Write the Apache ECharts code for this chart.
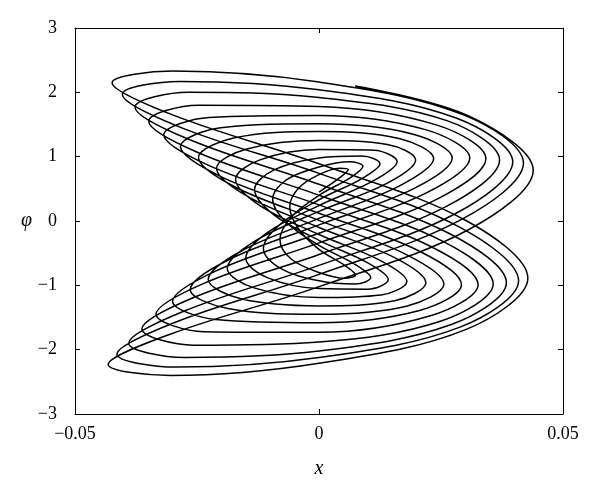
<!DOCTYPE html>
<html>
<head>
<meta charset="utf-8">
<script src="https://cdn.jsdelivr.net/npm/echarts@6/dist/echarts.min.js"></script>
<style>
html,body{margin:0;padding:0;background:#fff;}
#chart{width:600px;height:488px;}
</style>
</head>
<body>
<div id="chart"></div>
<script>
// Axis ticks
const xTicks = [-0.05, 0, 0.05];
const yTicks = [-3, -2, -1, 0, 1, 2, 3];

// Trajectory (x, phi), one array per cycle of the spiral
const cycle01 = [
  [0.0074, 2.10], [0.0310, 1.62], [0.0439, 0.79],
  [0.0310, -0.12], [0, -1.02], [-0.0305, -1.76], [-0.0432, -2.23],
  [-0.0305, -2.40], [0, -2.21], [0.0303, -1.68], [0.0428, -0.89],
  [0.0303, 0.00], [0, 0.89], [-0.0300, 1.65], [-0.0424, 2.15]
];
const cycle02 = [
  [-0.0300, 2.33], [0, 2.16], [0.0296, 1.65], [0.0419, 0.90],
  [0.0296, 0.04], [0, -0.83], [-0.0293, -1.57], [-0.0414, -2.07],
  [-0.0293, -2.27], [0, -2.12], [0.0289, -1.65], [0.0409, -0.93],
  [0.0289, -0.10], [0, 0.74], [-0.0285, 1.46], [-0.0403, 1.97]
];
const cycle03 = [
  [-0.0285, 2.17], [0, 2.04], [0.0281, 1.60], [0.0397, 0.92],
  [0.0281, 0.12], [0, -0.69], [-0.0276, -1.40], [-0.0390, -1.90],
  [-0.0276, -2.12], [0, -2.02], [0.0271, -1.61], [0.0384, -0.96],
  [0.0271, -0.21], [0, 0.57], [-0.0267, 1.27], [-0.0377, 1.77]
];
const cycle04 = [
  [-0.0267, 2.00], [0, 1.92], [0.0262, 1.56], [0.0370, 0.95],
  [0.0262, 0.23], [0, -0.52], [-0.0257, -1.19], [-0.0363, -1.68],
  [-0.0257, -1.93], [0, -1.88], [0.0252, -1.55], [0.0357, -0.98],
  [0.0252, -0.31], [0, 0.40], [-0.0247, 1.06], [-0.0349, 1.55]
];
const cycle05 = [
  [-0.0247, 1.80], [0, 1.78], [0.0242, 1.49], [0.0342, 0.97],
  [0.0242, 0.34], [0, -0.34], [-0.0236, -0.97], [-0.0334, -1.45],
  [-0.0236, -1.72], [0, -1.73], [0.0230, -1.47], [0.0326, -0.99],
  [0.0230, -0.40], [0, 0.25], [-0.0225, 0.86], [-0.0318, 1.34]
];
const cycle06 = [
  [-0.0225, 1.61], [0, 1.64], [0.0218, 1.42], [0.0309, 0.98],
  [0.0218, 0.43], [0, -0.19], [-0.0212, -0.78], [-0.0300, -1.25],
  [-0.0212, -1.53], [0, -1.58], [0.0206, -1.39], [0.0292, -0.99],
  [0.0206, -0.47], [0, 0.12], [-0.0201, 0.69], [-0.0284, 1.16]
];
const cycle07 = [
  [-0.0201, 1.45], [0, 1.51], [0.0193, 1.35], [0.0273, 0.98],
  [0.0193, 0.50], [0, -0.06], [-0.0187, -0.61], [-0.0264, -1.07],
  [-0.0187, -1.36], [0, -1.45], [0.0181, -1.32], [0.0256, -0.98],
  [0.0181, -0.53], [0, 0.01], [-0.0175, 0.54], [-0.0247, 0.99]
];
const cycle08 = [
  [-0.0175, 1.29], [0, 1.39], [0.0166, 1.28], [0.0235, 0.97],
  [0.0166, 0.55], [0, 0.04], [-0.0160, -0.47], [-0.0227, -0.91],
  [-0.0160, -1.21], [0, -1.32], [0.0155, -1.24], [0.0219, -0.96],
  [0.0155, -0.57], [0, -0.10], [-0.0148, 0.39], [-0.0210, 0.82]
];
const cycle09 = [
  [-0.0148, 1.12], [0, 1.25], [0.0140, 1.19], [0.0198, 0.95],
  [0.0140, 0.59], [0, 0.15], [-0.0133, -0.32], [-0.0188, -0.74],
  [-0.0133, -1.04], [0, -1.19], [0.0127, -1.15], [0.0180, -0.94],
  [0.0127, -0.62], [0, -0.21], [-0.0121, 0.24], [-0.0171, 0.65]
];
const cycle10 = [
  [-0.0121, 0.95], [0, 1.11], [0.0113, 1.10], [0.0160, 0.92],
  [0.0113, 0.63], [0, 0.24], [-0.0106, -0.18], [-0.0150, -0.58],
  [-0.0106, -0.88], [0, -1.05], [0.0100, -1.06], [0.0142, -0.91],
  [0.0100, -0.65], [0, -0.30], [-0.0093, 0.10], [-0.0132, 0.49]
];
const cycle11 = [
  [-0.0093, 0.79], [0, 0.98], [0.0088, 1.01], [0.0125, 0.89],
  [0.0088, 0.66], [0, 0.33], [-0.0081, -0.06], [-0.0114, -0.43],
  [-0.0081, -0.73], [0, -0.93], [0.0075, -0.98], [0.0106, -0.88],
  [0.0075, -0.68], [0, -0.38], [-0.0067, -0.02], [-0.0095, 0.34]
];
const cycle12 = [
  [-0.0067, 0.64], [0, 0.84], [0.0064, 0.92], [0.0090, 0.85],
  [0.0064, 0.67], [0, 0.40], [-0.0057, 0.06], [-0.0080, -0.29],
  [-0.0057, -0.59], [0, -0.80], [0.0053, -0.89], [0.0075, -0.84],
  [0.0053, -0.69], [0, -0.44], [-0.0042, -0.12], [-0.0060, 0.22]
];
const cycle13 = [
  [-0.0042, 0.51], [0, 0.72], [0.0042, 0.82], [0.0060, 0.80],
  [0.0042, 0.67], [0, 0.45]
];

const trajectory = [].concat(cycle01, cycle02, cycle03, cycle04, cycle05, cycle06,
  cycle07, cycle08, cycle09, cycle10, cycle11, cycle12, cycle13);

const serif = "'Liberation Serif', 'DejaVu Serif', serif";
const fmt = v => (v < 0 ? '\u2212' : '') + String(Math.abs(v));

function axisCommon(minV, maxV, step) {
  return {
    type: 'value', min: minV, max: maxV, interval: step,
    axisLine: { show: true, onZero: false, lineStyle: { color: '#000', width: 1 } },
    axisTick: { show: true, inside: true, length: 5, lineStyle: { color: '#000', width: 1 } },
    splitLine: { show: false }
  };
}

const chart = echarts.init(document.getElementById('chart'), null, { renderer: 'canvas' });
chart.setOption({
  animation: false,
  backgroundColor: '#fff',
  grid: { left: 75, right: 37, top: 28, bottom: 74, containLabel: false },
  xAxis: [
    Object.assign(axisCommon(xTicks[0], xTicks[xTicks.length - 1], xTicks[1] - xTicks[0]), {
      position: 'bottom',
      axisLabel: { formatter: fmt, fontFamily: serif, fontSize: 18, color: '#000', margin: 11 },
      name: 'x', nameLocation: 'middle', nameGap: 45,
      nameTextStyle: { fontFamily: serif, fontStyle: 'italic', fontSize: 20, color: '#000' }
    }),
    Object.assign(axisCommon(xTicks[0], xTicks[xTicks.length - 1], xTicks[1] - xTicks[0]), {
      position: 'top', axisLabel: { show: false }
    })
  ],
  yAxis: [
    Object.assign(axisCommon(yTicks[0], yTicks[yTicks.length - 1], yTicks[1] - yTicks[0]), {
      position: 'left',
      axisLabel: { formatter: fmt, fontFamily: serif, fontSize: 18, color: '#000', margin: 18 },
      name: '\u03c6', nameLocation: 'middle', nameGap: 41, nameRotate: 0,
      nameTextStyle: { fontFamily: serif, fontStyle: 'italic', fontSize: 20, color: '#000' }
    }),
    Object.assign(axisCommon(yTicks[0], yTicks[yTicks.length - 1], yTicks[1] - yTicks[0]), {
      position: 'right', axisLabel: { show: false }
    })
  ],
  series: [{
    type: 'line',
    xAxisIndex: 0, yAxisIndex: 0,
    data: trajectory,
    showSymbol: false,
    smooth: 0.35,
    lineStyle: { color: '#000', width: 1.5 },
    emphasis: { disabled: true },
    silent: true
  }]
});
</script>
</body>
</html>
